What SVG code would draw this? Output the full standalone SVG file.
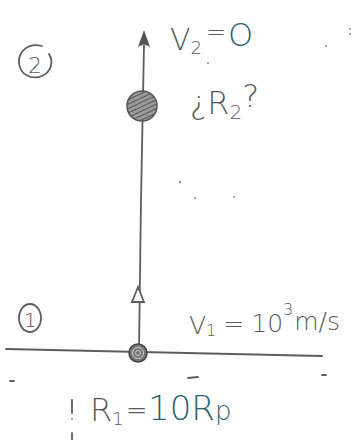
<svg xmlns="http://www.w3.org/2000/svg" width="352" height="440" viewBox="0 0 352 440">
<style>
.pen{fill:none;stroke:#5e5e5e;stroke-width:1.8;stroke-linecap:round}
.t{font-family:"DejaVu Sans",sans-serif;fill:#5a5a5a;font-weight:300}
.teal{fill:#2d6272}
.speck{fill:#8a8a8a}
</style>
<defs>
<pattern id="hatch" width="4" height="4" patternUnits="userSpaceOnUse" patternTransform="rotate(65)">
<rect width="4" height="4" fill="#9a9a9a"/>
<line x1="0" y1="0" x2="0" y2="4" stroke="#555" stroke-width="2"/>
</pattern>
</defs>
<rect width="352" height="440" fill="#fff"/>

<g id="connectors">
<path id="ground" class="pen" d="M6,349 L322,356" stroke-width="2"/>
<path id="trajectory" class="pen" d="M139,350 L141,200 L144,45"/>
<path id="arrowhead-top" d="M144,30 L150,47 L144,44 L138,47 Z" fill="#555"/>
<path id="arrow-mid" d="M138,287 L144,302 L132,302 Z" fill="#fff" stroke="#5e5e5e" stroke-width="1.8"/>
</g>

<g id="node-ball2">
<circle cx="142" cy="106" r="15" fill="url(#hatch)" stroke="#555" stroke-width="1.5"/>
</g>

<g id="node-ball1">
<circle cx="138" cy="353" r="9" fill="#777" stroke="#444" stroke-width="1.5"/>
<circle cx="138" cy="353" r="5.5" fill="none" stroke="#ccc" stroke-width="1"/>
<circle cx="138" cy="353" r="2.5" fill="none" stroke="#ccc" stroke-width="1"/>
</g>

<g id="label-2">
<path class="pen" d="M42,46 C28,42 18,52 19,63 C20,75 32,80 42,76 C51,72 54,62 49,54" stroke-width="1.4"/>
<text class="t" x="28" y="73" font-size="22">2</text>
</g>

<g id="label-1">
<ellipse cx="30" cy="318" rx="11" ry="14" class="pen" stroke-width="1.4"/>
<text class="t" x="24" y="327" font-size="20">1</text>
</g>

<g id="label-v2">
<text class="t" x="170" y="50" font-size="30">V<tspan font-size="18" dy="4">2</tspan><tspan font-size="24" dy="-14" dx="4">=</tspan></text>
<text class="t teal" x="228" y="46" font-size="32">O</text>
</g>

<g id="label-r2">
<text class="t" x="190" y="114" font-size="32">¿R<tspan font-size="20" dy="5">2</tspan><tspan dy="-12">?</tspan></text>
</g>

<g id="label-v1">
<text class="t" x="189" y="334" font-size="25">V<tspan font-size="16" dy="2">1</tspan><tspan dy="-4" dx="7">=</tspan><tspan dx="7">10</tspan><tspan font-size="16" dy="-17">3</tspan><tspan dy="15" dx="1">m/s</tspan></text>
</g>

<g id="label-r1">
<text class="t" x="90" y="421" font-size="32">R<tspan font-size="18" dy="4">1</tspan><tspan font-size="26" dy="-6" dx="2">=</tspan></text>
<text class="t teal" x="148" y="420" font-size="34">10R<tspan font-size="26">p</tspan></text>
</g>

<g id="marks">
<path class="pen" d="M72,400 L72,413" stroke-width="1.2"/>
<circle class="speck" cx="72" cy="419" r="1"/>
<path class="pen" d="M72,433 L72,440" stroke-width="1.2"/>
<path class="pen" d="M188,378 L198,377" stroke-width="1.2"/>
<path class="pen" d="M10,381 L14,381" stroke-width="1"/>
<path class="pen" d="M322,375 L326,375" stroke-width="1"/>
<circle class="speck" cx="180" cy="182" r="1.2"/>
<circle class="speck" cx="195" cy="198" r="1"/>
<circle class="speck" cx="234" cy="197" r="1"/>
<circle class="speck" cx="208" cy="63" r="1"/>
<circle class="speck" cx="326" cy="46" r="1"/>
<circle class="speck" cx="350" cy="29" r="1"/>
<circle class="speck" cx="350" cy="34" r="1"/>
</g>
</svg>
